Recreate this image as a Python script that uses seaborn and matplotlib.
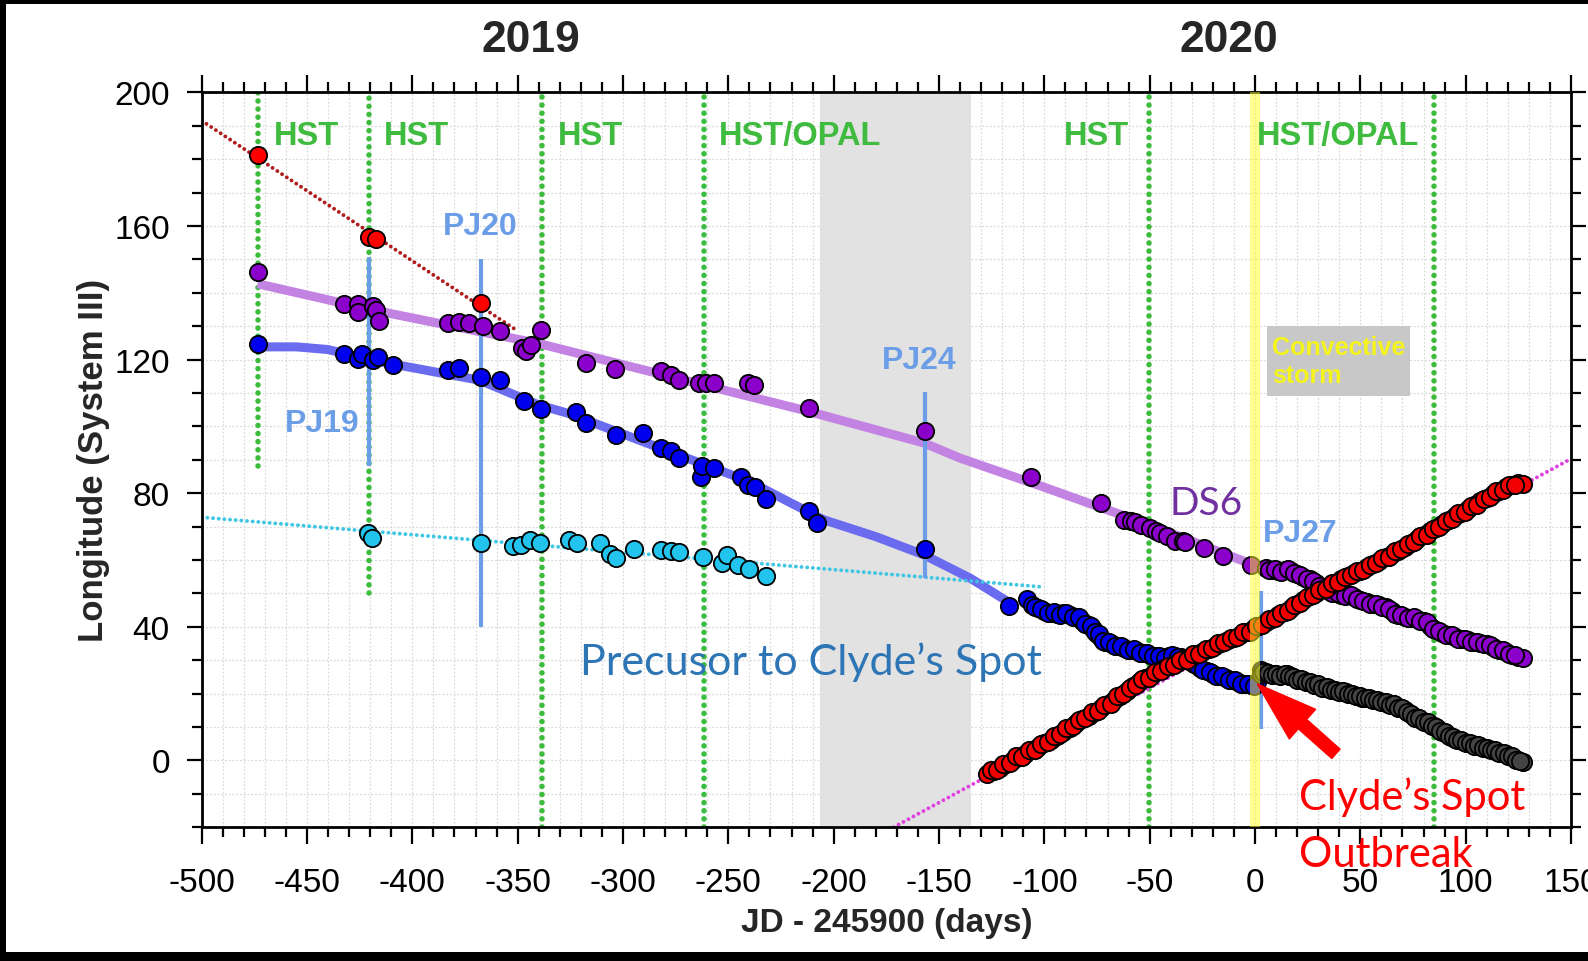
import matplotlib
matplotlib.use("Agg")
import matplotlib.pyplot as plt
import numpy as np
import pandas as pd
import seaborn as sns
from matplotlib.ticker import MultipleLocator
from matplotlib.patches import Rectangle

# ---------------------------------------------------------------- data
# Observation campaigns (days relative to JD 2459000)
obs_days = [-473.5, -420.5, -338.5, -261.5, -50.2, 85.0]
obs_low = [88, 50, -20, -20, -20, -20]
obs_high = [200, 200, 200, 200, 200, 200]
obs_names = ["HST", "HST", "HST", "HST/OPAL", "HST", "HST/OPAL"]
obs_name_x = [-465.6, -413.4, -331.1, -254.6, -90.7, 1.0]

# Juno perijoves
pj_names = ["PJ19", "PJ20", "PJ24", "PJ27"]
pj_days = [-420.5, -367.5, -156.6, 2.7]
pj_low = [88.0, 40.0, 54.7, 9.4]
pj_high = [150.6, 150.1, 110.4, 50.7]
pj_name_x = [-442.8, -367.9, -159.4, 21.3]
pj_name_y = [100.9, 160.1, 119.8, 68.1]

# Early red feature
red_early_days = [-473.5, -420.5, -417.3, -367.5]
red_early_lon = [181.3, 156.8, 156.1, 137.0]

# DS6 (purple)
ds6_days = [-473.5, -432.3, -426.0, -426.0, -418.9, -417.3, -415.7, -383.3, -377.8,
            -373.0, -366.7, -358.5, -348.0, -346.0, -343.5, -339.0, -317.6, -303.7,
            -282.0, -277.3, -273.3, -263.8, -260.7, -256.7, -240.9, -237.7, -211.9,
            -156.6, -106.4, -73.2, -62, -59, -57, -54, -50, -47, -45, -42, -38, -34,
            -33, -24, -15, -2, 5, 8, 11, 14, 17, 20, 23, 26, 29, 32, 35, 38, 41, 44,
            47, 50, 53, 56, 59, 62, 65, 68, 71, 74, 77, 80, 83, 86, 89, 92, 95, 98,
            101, 104, 107, 110, 113, 116, 119, 122, 125, 127]
ds6_lon = [146.2, 136.5, 136.7, 134.2, 135.9, 134.7, 131.5, 130.8, 131.2,
           130.8, 130.0, 128.6, 123.5, 122.5, 124.5, 128.8, 119.1, 117.3,
           116.6, 115.3, 113.8, 112.9, 112.9, 113.0, 112.9, 112.4, 105.4,
           98.7, 85.0, 77.1, 72.0, 71.6, 71.4, 70.5, 69.6, 68.6, 68.0, 67.2, 65.8, 65.8,
           65.4, 63.6, 61.3, 58.6, 57.6, 57.0, 56.6, 57.0, 56.6, 55.8, 55.0, 54.2, 53.0,
           51.8, 50.8, 50.2, 49.6, 49.4, 49.0, 48.0, 47.4, 46.8, 46.4, 45.8, 44.6, 43.6,
           43.0, 42.6, 42.4, 41.8, 40.4, 39.0, 38.2, 37.6, 37.0, 36.4, 36.0, 35.6, 35.2,
           34.8, 34.0, 33.2, 32.4, 31.6, 31.0, 30.8]
ds6_days_b = [6.5, 9.5, 12.5, 15.5, 18.5, 21.5, 24.5, 27.5, 30.5, 33.5, 36.5, 39.5,
              42.5, 45.5, 48.5, 51.5, 54.5, 57.5, 60.5, 63.5, 66.5, 69.5, 72.5, 75.5,
              78.5, 81.5, 84.5, 87.5, 90.5, 93.5, 96.5, 99.5, 102.5, 105.5, 108.5,
              111.5, 114.5, 117.5, 120.5, 123.5]
ds6_lon_b = [57.0, 57.4, 56.4, 57.2, 56.0, 55.6, 54.4, 53.8, 52.2, 51.6, 50.2, 50.0,
             49.2, 49.4, 48.4, 47.8, 46.8, 46.8, 45.8, 45.4, 43.8, 43.6, 42.6, 42.8,
             41.8, 41.4, 39.4, 38.8, 37.6, 37.6, 36.4, 36.4, 35.6, 35.6, 34.8, 34.6,
             33.4, 33.0, 31.8, 31.6]
ds6_trend_days = [-473.5, -420, -340, -280, -212, -157, -140, -101, -50, -3, 50, 100, 122]
ds6_trend_lon = [142.7, 135.0, 124.8, 115.3, 104.5, 95.0, 90.5, 82.0, 70.5, 59.1, 48.5, 37.0, 32.3]

# Precursor to Clyde's Spot (blue)
pre_days = [-473.5, -432.3, -426.0, -423.7, -418.9, -416.5, -409.4, -383.3, -377.8,
            -367.5, -358.5, -346.9, -339.0, -322.4, -317.6, -303.4, -290.4, -282.0,
            -277.3, -273.3, -263.0, -262.3, -256.7, -244.0, -240.9, -237.3, -232.2,
            -211.9, -207.7, -156.6, -116.7, -108, -106, -103, -100, -97, -94, -91, -88,
            -85, -82, -79, -77, -75, -73, -71, -68, -65, -62, -59, -56, -53, -50, -47,
            -44, -41, -38, -35, -32, -29, -26, -23, -20, -17, -14, -11, -8, -5, -2, 1, 3]
pre_lon = [124.8, 121.8, 120.3, 121.8, 119.8, 120.8, 118.5, 116.8, 117.6,
           114.8, 114.0, 107.7, 105.1, 104.4, 100.9, 97.4, 98.1, 93.5,
           92.5, 90.5, 85.0, 88.0, 87.5, 85.0, 82.5, 82.0, 78.3,
           74.6, 71.1, 63.3, 46.2, 48.2, 46.5, 45.5, 44.8, 44.2, 43.8, 44.0, 43.4,
           43.0, 41.8, 40.6, 39.4, 38.0, 36.8, 35.6, 35.0, 34.4, 33.8, 33.2, 32.8, 32.2,
           31.6, 31.2, 31.0, 31.2, 31.4, 31.0, 30.2, 29.0, 27.8, 26.8, 26.0, 25.2, 24.6,
           24.0, 23.4, 22.8, 22.6, 23.6, 27.0]
pre_days_b = [-104.5, -101.5, -98.5, -95.5, -92.5, -89.5, -86.5, -83.5, -80.5, -78, -76,
              -74, -72, -69.5, -66.5, -63.5, -60.5, -57.5, -54.5, -51.5, -48.5, -45.5,
              -42.5, -39.5, -36.5, -33.5, -30.5, -27.5, -24.5, -21.5, -18.5, -15.5,
              -12.5, -9.5, -6.5, -3.5, -0.5]
pre_lon_b = [46.0, 45.4, 44.2, 44.4, 43.6, 44.0, 42.8, 42.8, 40.8, 40.4, 38.4,
             37.8, 35.8, 35.6, 34.4, 34.4, 33.2, 33.4, 32.2, 32.2, 31.2, 31.4,
             30.8, 31.6, 31.0, 30.8, 29.4, 28.6, 27.0, 26.6, 25.4, 25.2,
             24.0, 24.0, 22.8, 23.0, 22.2]
pre_trend_days = [-473.5, -455, -440, -419, -368, -340, -326, -276, -240, -205, -180,
                  -157, -135, -116.7]
pre_trend_lon = [123.8, 123.8, 123.0, 119.8, 113.8, 106.4, 103.9, 92.0, 83.5, 72.1, 67.0,
                 61.5, 54.5, 47.3]

# Slow-drifting feature (cyan)
cyan_days = [-421.0, -419.0, -367.5, -352.0, -348.6, -344.3, -339.3, -325.6, -322.0,
             -310.7, -306.0, -303.4, -295.0, -281.8, -277.4, -273.2, -261.8, -252.8,
             -250.5, -245.4, -240.4, -232.3]
cyan_lon = [68.2, 66.6, 65.2, 64.1, 64.6, 65.9, 65.1, 66.1, 65.1,
            65.1, 61.8, 60.6, 63.3, 63.1, 62.6, 62.3, 60.9, 59.0,
            61.4, 58.4, 57.2, 55.1]
cyan_trend_days = [-500, -101.9]
cyan_trend_lon = [72.8, 52.0]

# Red drift lines
red_trend_days = [-500, -350.6]
red_trend_lon = [191.5, 128.8]
mag_trend_days = [-171.6, 150]
mag_trend_lon = [-20.0, 90.3]

# Red track crossing the region
red_days = [-127, -124, -121, -118, -115, -112, -109, -106, -103, -100, -97, -94, -91,
            -88, -85, -82, -79, -76, -73, -70, -67, -64, -61, -58, -55, -52, -49, -46,
            -43, -40, -37, -34, -31, -28, -25, -22, -19, -16, -13, -10, -7, -4, -1, 2,
            5, 8, 11, 14, 17, 20, 23, 26, 29, 32, 35, 38, 41, 44, 47, 50, 53, 56, 59,
            62, 65, 68, 71, 74, 77, 80, 83, 86, 89, 92, 95, 98, 101, 104, 107, 110,
            113, 116, 119, 122, 125, 127]
red_lon = [-4.0, -3.0, -2.2, -1.0, 0.0, 1.0, 2.0, 3.2, 4.0, 5.2, 6.2, 7.4, 8.6,
           9.8, 11.2, 12.4, 13.4, 14.6, 15.6, 16.8, 18.0, 19.4, 20.8, 22.2, 23.4, 24.6,
           25.6, 26.8, 27.6, 28.4, 29.2, 30.0, 31.0, 31.8, 32.6, 33.4, 34.4, 35.2, 36.0,
           36.8, 37.6, 38.4, 39.4, 40.4, 41.4, 42.4, 43.4, 44.4, 45.6, 46.8, 48.0, 49.2,
           50.2, 51.2, 52.2, 53.2, 54.2, 55.2, 56.0, 56.8, 57.8, 58.8, 59.8, 60.8, 61.8,
           62.8, 64.0, 65.2, 66.4, 67.4, 68.6, 69.6, 70.8, 72.0, 73.2, 74.2, 75.2, 76.4,
           77.6, 78.6, 79.8, 80.8, 81.8, 82.6, 83.0, 82.8]
red_days_b = [-125.5, -122.5, -119.5, -116.5, -113.5, -110.5, -107.5, -104.5, -101.5,
              -98.5, -95.5, -92.5, -89.5, -86.5, -83.5, -80.5, -77.5, -74.5, -71.5,
              -68.5, -65.5, -62.5, -59.5, -56.5, -53.5, -50.5, -47.5, -44.5, -41.5,
              -38.5, -35.5, -32.5, -29.5, -26.5, -23.5, -20.5, -17.5, -14.5, -11.5,
              -8.5, -5.5, -2.5, 0.5, 3.5, 6.5, 9.5, 12.5, 15.5, 18.5, 21.5, 24.5, 27.5,
              30.5, 33.5, 36.5, 39.5, 42.5, 45.5, 48.5, 51.5, 54.5, 57.5, 60.5, 63.5,
              66.5, 69.5, 72.5, 75.5, 78.5, 81.5, 84.5, 87.5, 90.5, 93.5, 96.5, 99.5,
              102.5, 105.5, 108.5, 111.5, 114.5, 117.5, 120.5, 123.5]
red_lon_b = [-2.8, -2.9, -1.0, -0.8, 1.2, 1.0, 3.0, 3.2, 5.0,
             5.4, 7.2, 7.8, 9.6, 10.2, 12.2, 12.6, 14.4, 14.8, 16.6,
             17.0, 19.2, 19.8, 21.8, 22.6, 24.4, 24.8, 26.6, 26.8, 28.4,
             28.6, 30.0, 30.2, 31.8, 31.8, 33.4, 33.6, 35.2, 35.4, 36.8,
             37.0, 38.4, 38.6, 40.2, 40.6, 42.2, 42.6, 44.2, 44.8, 46.6, 47.0, 48.8, 49.4,
             51.0, 51.4, 53.0, 53.4, 55.0, 55.4, 56.8, 57.0, 58.6, 59.0, 60.6, 61.0,
             62.6, 63.2, 64.8, 65.4, 67.2, 67.6, 69.4, 69.8, 71.6, 72.2, 74.0, 74.4,
             76.2, 76.6, 78.4, 78.8, 80.6, 81.0, 82.6, 82.4]

# Clyde's Spot after the outbreak (dark grey)
clyde_days = [3, 5, 7, 9, 11, 13, 15, 17, 19, 21, 23, 25, 27, 29, 31, 33, 35, 37, 39,
              41, 43, 45, 47, 49, 51, 53, 55, 57, 59, 61, 63, 65, 67, 69, 71, 73, 75,
              77, 79, 81, 83, 85, 87, 89, 91, 93, 95, 97, 99, 101, 103, 105, 107, 109,
              111, 113, 115, 117, 119, 121, 123, 125, 127]
clyde_lon = [26.0, 26.6, 26.0, 25.8, 25.6, 25.6, 25.8, 25.4, 24.6, 24.2, 24.0, 23.6,
             23.2, 22.6, 22.2, 21.8, 21.6, 21.2, 20.8, 20.6, 20.4, 19.8, 19.6, 19.2,
             18.8, 18.6, 18.4, 18.2, 17.8, 17.4, 17.0, 16.6, 16.4, 15.8, 15.0, 14.2,
             13.4, 12.8, 12.2, 11.6, 10.8, 10.2, 9.4, 8.6, 7.8, 7.0, 6.4, 6.0, 5.6, 5.2,
             4.8, 4.6, 4.2, 3.8, 3.4, 3.0, 2.6, 2.2, 1.8, 1.2, 0.6, 0.0, -0.6]
clyde_days_b = [4, 6, 8, 10, 12, 14, 16, 18, 20, 22, 24, 26, 28, 30, 32, 34, 36, 38,
                40, 42, 44, 46, 48, 50, 52, 54, 56, 58, 60, 62, 64, 66, 68, 70, 72, 74,
                76, 78, 80, 82, 84, 86, 88, 90, 92, 94, 96, 98, 100, 102, 104, 106, 108,
                110, 112, 114, 116, 118, 120, 122, 124, 126]
clyde_lon_b = [26.4, 26.2, 25.6, 26.0, 25.2, 25.9, 25.2, 25.0, 24.0, 24.4, 23.4, 23.6,
               22.6, 22.8, 21.8, 22.0, 21.2, 21.2, 20.6, 20.8, 19.8, 20.0, 19.2, 19.2,
               18.6, 18.8, 18.0, 18.2, 17.4, 17.4, 16.6, 16.8, 15.8, 15.6, 14.4, 14.0,
               12.8, 12.8, 11.6, 11.4, 10.2, 10.0, 8.8, 8.4, 7.2, 7.0, 6.0, 6.0, 5.2,
               5.2, 4.4, 4.6, 3.8, 3.8, 3.0, 3.0, 2.2, 2.2, 1.2, 1.2, 0.2, -0.2]

year_names = ["2019", "2020"]
year_days = [-343.7, -12.2]

# ---------------------------------------------------------------- style
sns.set_theme(style="white")
plt.rcParams["font.family"] = ["Liberation Sans", "DejaVu Sans"]
plt.rcParams["axes.unicode_minus"] = False

fig = plt.figure(figsize=(15.88, 9.62), dpi=100, facecolor="white")
# dark frame on the left, top and bottom edges
for rect in [(0, 0, 6 / 1588, 1), (0, 1 - 5 / 962, 1, 5 / 962), (0, 0, 1, 9 / 962)]:
    fig.patches.append(Rectangle(rect[:2], rect[2], rect[3], transform=fig.transFigure,
                                 facecolor="black", edgecolor="none", zorder=5))
ax = fig.add_axes([201.7 / 1588, 1 - 828.3 / 962, (1571 - 201.7) / 1588,
                   (828.3 - 93.3) / 962])
ax.set_facecolor("white")

dot = (0, (0.01, 1.45))

# gap in coverage and the outbreak date
ax.axvspan(-206.5, -134.8, color="#e2e2e2", lw=0, zorder=0.8)
ax.axvspan(-2.2, 2.2, color="#ffff20", alpha=0.5, lw=0, zorder=3.6)

# observation epochs
ax.vlines(obs_days, obs_low, obs_high, colors="#3cbc3c", linestyles=[dot],
          linewidth=4.0, capstyle="round", zorder=1.5)
for x, name in zip(obs_name_x, obs_names):
    ax.text(x, 187.2, name, color="#3fbb3f", fontsize=23.5, fontweight="bold",
            ha="left", va="center", zorder=4)

# perijove markers
ax.vlines(pj_days, pj_low, pj_high, colors="#6c9ee8", linewidth=3.0, zorder=2.5)
for x, y, name in zip(pj_name_x, pj_name_y, pj_names):
    ax.text(x, y, name, color="#6c9ee8", fontsize=23, fontweight="bold",
            ha="center", va="center", zorder=4)

# drift fits
line_kw = dict(ax=ax, sort=False, estimator=None, legend=False)
sns.lineplot(x=ds6_trend_days, y=ds6_trend_lon, color="#c383e3", lw=6.5, zorder=2,
             solid_capstyle="butt", **line_kw)
sns.lineplot(x=pre_trend_days, y=pre_trend_lon, color="#6b6bf0", lw=6.5, zorder=2,
             solid_capstyle="butt", **line_kw)
sns.lineplot(x=cyan_trend_days, y=cyan_trend_lon, color="#3ec6e2", lw=2.8,
             linestyle=dot, dash_capstyle="round", zorder=2.2, **line_kw)
sns.lineplot(x=red_trend_days, y=red_trend_lon, color="#b01c1c", lw=2.8,
             linestyle=dot, dash_capstyle="round", zorder=2.2, **line_kw)
sns.lineplot(x=mag_trend_days, y=mag_trend_lon, color="#e040e0", lw=2.8,
             linestyle=dot, dash_capstyle="round", zorder=2.2, **line_kw)

# measured positions
pt_kw = dict(ax=ax, s=155, edgecolor="black", linewidth=1.3, legend=False, zorder=3)
sns.scatterplot(x=cyan_days, y=cyan_lon, color="#22c4ee", **pt_kw)
sns.scatterplot(x=red_early_days, y=red_early_lon, color="#ff0000", **pt_kw)
sns.scatterplot(x=pre_days, y=pre_lon, color="#0000ee", **pt_kw)
sns.scatterplot(x=pre_days_b, y=pre_lon_b, color="#0000ee", **pt_kw)
sns.scatterplot(x=ds6_days, y=ds6_lon, color="#8c00cc", **pt_kw)
sns.scatterplot(x=ds6_days_b, y=ds6_lon_b, color="#8c00cc", **pt_kw)
sns.scatterplot(x=red_days, y=red_lon, color="#f20000", **pt_kw)
sns.scatterplot(x=red_days_b, y=red_lon_b, color="#f20000", **pt_kw)
sns.scatterplot(x=clyde_days, y=clyde_lon, color="#444444", **pt_kw)
sns.scatterplot(x=clyde_days_b, y=clyde_lon_b, color="#444444", **pt_kw)

# convective storm note
ax.add_patch(Rectangle((5.8, 109.2), 68.0, 20.9, facecolor="#c8c8c8",
                       edgecolor="none", zorder=4))
ax.text(8.2, 121.7, "Convective", color="#f4f41c", fontsize=18, fontweight="bold",
        ha="left", va="baseline", zorder=4.5)
ax.text(8.2, 113.2, "storm", color="#f4f41c", fontsize=18, fontweight="bold",
        ha="left", va="baseline", zorder=4.5)

# annotations
ax.text(-23, 73.8, "DS6", color="#7030a0", fontsize=28, family=["Lato", "DejaVu Sans"],
        ha="center", va="baseline", zorder=4)
ax.text(-320.6, 25.9, "Precusor to Clyde\u2019s Spot", color="#2e75b6", fontsize=31,
        family=["Lato", "DejaVu Sans"], ha="left", va="baseline", zorder=4)
ax.text(20.9, -14.5, "Clyde\u2019s Spot", color="#ff0000", fontsize=30,
        family=["Lato", "DejaVu Sans"], ha="left", va="baseline", zorder=6)
ax.text(20.9, -31.5, "Outbreak", color="#ff0000", fontsize=30,
        family=["Lato", "DejaVu Sans"], ha="left", va="baseline", zorder=6)
ax.annotate("", xy=(1.1, 22.9), xytext=(38.4, 2.0),
            arrowprops=dict(arrowstyle="simple,head_length=1.45,head_width=0.95,tail_width=0.3",
                            color="#ff0000", mutation_scale=30, shrinkA=0, shrinkB=0),
            zorder=6)

for x, name in zip(year_days, year_names):
    ax.text(x, 1.0566, name, transform=ax.get_xaxis_transform(), fontsize=32,
            fontweight="bold", ha="center", va="baseline")

# ---------------------------------------------------------------- axes
ax.set_xlim(-500, 150)
ax.set_ylim(-20, 200)
ax.xaxis.set_major_locator(MultipleLocator(50))
ax.xaxis.set_minor_locator(MultipleLocator(10))
ax.yaxis.set_major_locator(MultipleLocator(40))
ax.yaxis.set_minor_locator(MultipleLocator(10))
ax.grid(which="both", color="#dadada", linestyle=(0, (1.5, 1.5)), linewidth=0.9)
ax.set_axisbelow(True)

ax.tick_params(axis="x", which="both", direction="out", bottom=True, top=True,
               labeltop=False, colors="black")
ax.tick_params(axis="x", which="major", length=12.5, width=1.6, labelsize=24, pad=16)
ax.tick_params(axis="x", which="minor", length=7.2, width=1.6)
ax.tick_params(axis="y", which="both", direction="out", left=True, right=True,
               labelright=False, colors="black")
ax.tick_params(axis="y", which="major", length=11, width=1.6, labelsize=24, pad=12)
ax.tick_params(axis="y", which="minor", length=7.2, width=1.6)
for sp in ax.spines.values():
    sp.set_linewidth(2.0)
    sp.set_color("black")

ax.set_xlabel("JD - 245900 (days)", fontsize=24, fontweight="bold")
ax.set_ylabel("Longitude (System III)", fontsize=25, fontweight="bold")
ax.xaxis.set_label_coords(0.5, -0.108)
ax.yaxis.set_label_coords(-0.0672, 0.5)

fig.savefig("out.png", dpi=100, facecolor=fig.get_facecolor())
